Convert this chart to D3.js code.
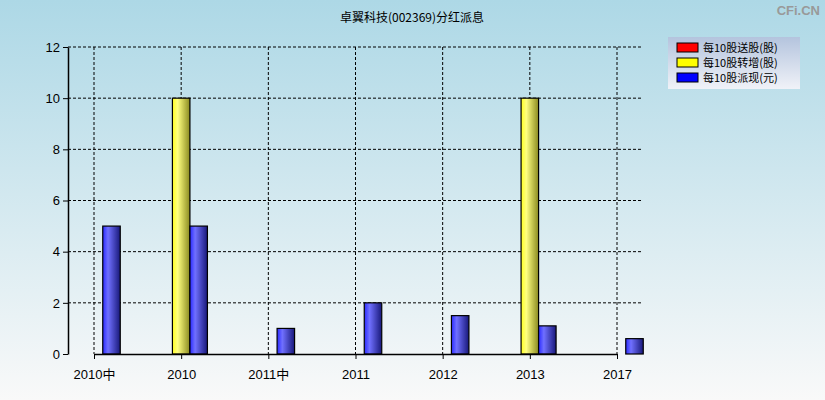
<!DOCTYPE html>
<html>
<head>
<meta charset="utf-8">
<script src="https://cdn.jsdelivr.net/npm/d3@7"></script>
<style>
  body { margin: 0; }
  svg { display: block; font-family: "Liberation Sans", Arial, sans-serif; }
</style>
</head>
<body>
<svg id="chart" width="825" height="400"></svg>
<script>
const categories = ["2010中", "2010", "2011中", "2011", "2012", "2013", "2017"];
const songGu = [0, 0, 0, 0, 0, 0, 0];        // 每10股送股(股)
const zhuanZeng = [0, 10, 0, 0, 0, 10, 0];    // 每10股转增(股)
const paiXian = [5, 5, 1, 2, 1.5, 1.1, 0.6];  // 每10股派现(元)
const yTicks = [0, 2, 4, 6, 8, 10, 12];
const seriesNames = ["每10股送股(股)", "每10股转增(股)", "每10股派现(元)"];

let margin = { top: 47, left: 68, right: 182, bottom: 46 };
const svg = d3.select("#chart"),
  width = 825 - margin.left - margin.right,
  height = 400 - margin.top - margin.bottom;

const defs = svg.append("defs");

// background
const bg = defs.append("linearGradient").attr("id", "bg")
  .attr("x1", 0).attr("y1", 0).attr("x2", 0).attr("y2", 1);
bg.append("stop").attr("offset", "0%").attr("stop-color", "#add8e6");
bg.append("stop").attr("offset", "100%").attr("stop-color", "#f9f9f9");
svg.append("rect").attr("width", 825).attr("height", 400).attr("fill", "url(#bg)");

// bar gradients (left to right shading)
function barGrad(id, stops) {
  const g = defs.append("linearGradient").attr("id", id)
    .attr("x1", 0).attr("y1", 0).attr("x2", 1).attr("y2", 0);
  stops.forEach(s => g.append("stop").attr("offset", s[0]).attr("stop-color", s[1]));
}
barGrad("gRed", [["0%", "#ff0000"], ["30%", "#ff7070"], ["100%", "#800000"]]);
barGrad("gYellow", [["0%", "#ffff20"], ["30%", "#ffff80"], ["100%", "#8a8a20"]]);
barGrad("gBlue", [["0%", "#2a2aff"], ["30%", "#7070ff"], ["100%", "#18187a"]]);

const g = svg.append("g").attr("transform", `translate(${margin.left},${margin.top})`);

const x = d3.scalePoint().domain(categories).range([26, width - 26]);
const y = d3.scaleLinear().domain([0, 12]).range([height, 0]);

// grid
g.selectAll(".hgrid").data(yTicks.slice(1)).enter().append("line")
  .attr("x1", 0).attr("x2", width)
  .attr("y1", d => y(d)).attr("y2", d => y(d))
  .attr("stroke", "#000").attr("stroke-dasharray", "3,2");
g.selectAll(".vgrid").data(categories).enter().append("line")
  .attr("x1", d => x(d)).attr("x2", d => x(d))
  .attr("y1", 0).attr("y2", height)
  .attr("stroke", "#000").attr("stroke-dasharray", "3,2");

// bars
const bw = 17.5;
const series = [
  { values: songGu, fill: "url(#gRed)", off: -1.5 },
  { values: zhuanZeng, fill: "url(#gYellow)", off: -0.5 },
  { values: paiXian, fill: "url(#gBlue)", off: 0.5 }
];
series.forEach(s => {
  g.selectAll(null).data(categories.map((c, i) => ({ c, v: s.values[i] })).filter(d => d.v > 0))
    .enter().append("rect")
    .attr("x", d => x(d.c) + s.off * bw)
    .attr("y", d => y(d.v))
    .attr("width", bw)
    .attr("height", d => height - y(d.v))
    .attr("fill", s.fill)
    .attr("stroke", "#000").attr("stroke-width", 1.2);
});

// axes
const yAxis = g.append("g").call(d3.axisLeft(y).tickValues(yTicks).tickSize(5).tickSizeOuter(0));
const xAxis = g.append("g").attr("transform", `translate(0,${height})`)
  .call(d3.axisBottom(x).tickSize(5).tickSizeOuter(0));
[yAxis, xAxis].forEach(a => {
  a.select(".domain").attr("stroke", "#000").attr("stroke-width", 1.5);
  a.selectAll("line").attr("stroke", "#000");
  a.selectAll("text").attr("fill", "#000").style("font-size", "13px")
    .style("font-family", "'Liberation Sans', 'Noto Sans CJK SC', sans-serif");
});
yAxis.selectAll("text").attr("x", -8);
xAxis.selectAll("text").attr("dy", "1.3em");

// title
svg.append("text").attr("x", 412).attr("y", 22).attr("text-anchor", "middle")
  .style("font-size", "12px").style("font-family", "'Noto Sans CJK SC', sans-serif")
  .text("卓翼科技(002369)分红派息");

svg.append("text").attr("x", 820).attr("y", 15).attr("text-anchor", "end")
  .style("font-size", "13px").style("font-weight", "bold").attr("fill", "#999")
  .text("CFi.CN");

// legend
const lg = defs.append("linearGradient").attr("id", "lg")
  .attr("x1", 0).attr("y1", 0).attr("x2", 0).attr("y2", 1);
lg.append("stop").attr("offset", "0%").attr("stop-color", "#b4c4de");
lg.append("stop").attr("offset", "100%").attr("stop-color", "#f0f2f8");
const legend = svg.append("g").attr("transform", "translate(668,37)");
legend.append("rect").attr("width", 132).attr("height", 52).attr("fill", "url(#lg)");
const swatch = ["#ff0000", "#ffff00", "#0000ff"];
seriesNames.forEach((n, i) => {
  legend.append("rect").attr("x", 9).attr("y", 6 + i * 15).attr("width", 21).attr("height", 9)
    .attr("fill", swatch[i]).attr("stroke", "#000");
  legend.append("text").attr("x", 35).attr("y", 14.5 + i * 15)
    .style("font-size", "11px").style("font-family", "'Noto Sans CJK SC', sans-serif")
    .text(n);
});
</script>
</body>
</html>
